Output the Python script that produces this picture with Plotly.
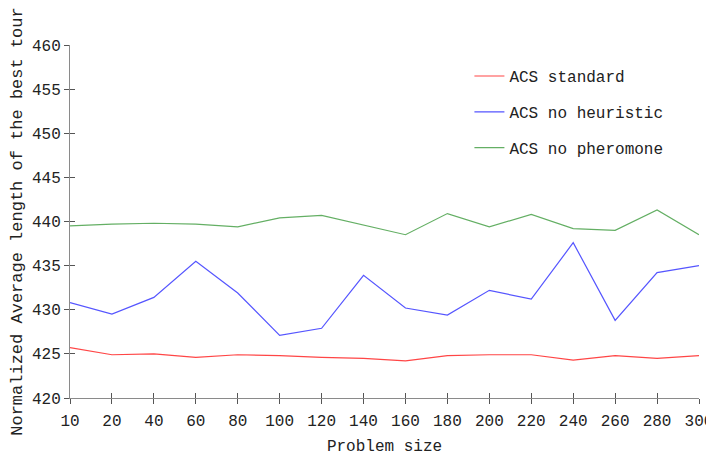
import plotly.graph_objects as go

sizes = ["10", "20", "40", "60", "80", "100", "120", "140", "160", "180", "200", "220", "240", "260", "280", "300"]
acs_standard = [425.7, 424.9, 425.0, 424.6, 424.9, 424.8, 424.6, 424.5, 424.2, 424.8, 424.9, 424.9, 424.3, 424.8, 424.5, 424.8]
acs_no_heuristic = [430.8, 429.5, 431.4, 435.5, 431.9, 427.1, 427.9, 433.9, 430.2, 429.4, 432.2, 431.2, 437.6, 428.8, 434.2, 435.0]
acs_no_pheromone = [439.5, 439.7, 439.8, 439.7, 439.4, 440.4, 440.7, 439.6, 438.5, 440.9, 439.4, 440.8, 439.2, 439.0, 441.3, 438.5]

y_ticks = [420, 425, 430, 435, 440, 445, 450, 455, 460]

FONT = "Liberation Mono, Courier New, monospace"

fig = go.Figure()
series = [
    ("ACS standard", acs_standard, "rgb(255,70,70)"),
    ("ACS no heuristic", acs_no_heuristic, "rgb(85,85,255)"),
    ("ACS no pheromone", acs_no_pheromone, "rgb(100,175,100)"),
]
for i, (name, vals, col) in enumerate(series):
    fig.add_trace(go.Scatter(x=sizes, y=vals, mode="lines", name=name,
                             line=dict(color=col, width=1.2),
                             legendgroup=str(i)))

# invisible trace to carry the overlay axes (for ticks crossing the axis lines)
fig.add_trace(go.Scatter(x=sizes, y=acs_standard, mode="lines", xaxis="x2", yaxis="y2",
                         line=dict(color="rgba(0,0,0,0)"), showlegend=False, hoverinfo="skip"))

axis_common = dict(showgrid=False, zeroline=False, linecolor="#8a8a8a", linewidth=1,
                   tickcolor="#555555", tickwidth=1)

# page body has an 8px margin, so the figure is sized/placed to compensate
fig.update_layout(
    width=706, height=455,
    margin=dict(l=62, r=15, t=37, b=65),
    paper_bgcolor="white", plot_bgcolor="white",
    font=dict(family=FONT, size=16, color="#222222"),
    xaxis=dict(type="category", range=[0, 15], showline=True, ticks="outside", ticklen=5,
               tickfont=dict(size=16), ticklabelstandoff=3,
               title=dict(text="Problem size", font=dict(size=16), standoff=9),
               automargin=False, **axis_common),
    yaxis=dict(range=[420, 460], tickvals=y_ticks, showline=True, ticks="outside", ticklen=5,
               tickfont=dict(size=16),
               title=dict(text="Normalized Average length of the best tour", font=dict(size=17), standoff=5),
               automargin=False, **axis_common),
    xaxis2=dict(type="category", range=[0, 15], overlaying="x", showline=False, ticks="inside",
                ticklen=5, showticklabels=False, **axis_common),
    yaxis2=dict(range=[420, 460], tickvals=y_ticks, overlaying="y", showline=False, ticks="inside",
                ticklen=5, showticklabels=False, **axis_common),
    legend=dict(x=0.635, y=0.96, xanchor="left", yanchor="top", bgcolor="rgba(0,0,0,0)",
                font=dict(size=16, color="#222222"), tracegroupgap=12, itemwidth=30),
    showlegend=True,
)

fig.write_html("out.html")
